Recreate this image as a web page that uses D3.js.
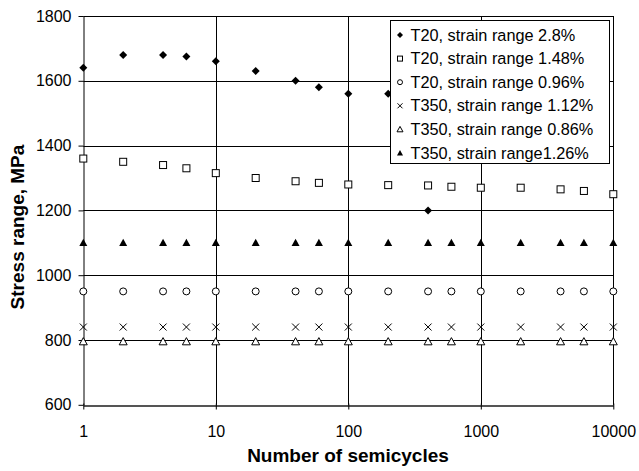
<!DOCTYPE html>
<html><head><meta charset="utf-8">
<script src="https://cdn.jsdelivr.net/npm/d3@7"></script>
<style>body{margin:0;background:#fff}svg{display:block}text{font-family:"Liberation Sans",Arial,sans-serif}</style>
</head><body>
<script>
const cycles = [1,2,4,6,10,20,40,60,100,200,400,600,1000,2000,4000,6000,10000];
const t20_28 = [1640,1680,1680,1675,1660,1630,1600,1580,1560,1560,1200];
const t20_148 = [1360,1350,1340,1330,1315,1300,1290,1285,1280,1278,1277,1273,1270,1270,1265,1260,1250];
const t20_096 = [950,950,950,950,950,950,950,950,950,950,950,950,950,950,950,950,950];
const t350_112 = [840,840,840,840,840,840,840,840,840,840,840,840,840,840,840,840,840];
const t350_086 = [795,795,795,795,795,795,795,795,795,795,795,795,795,795,795,795,795];
const t350_126 = [1100,1100,1100,1100,1100,1100,1100,1100,1100,1100,1100,1100,1100,1100,1100,1100,1100];
const seriesNames = ["T20, strain range 2.8%","T20, strain range 1.48%","T20, strain range 0.96%","T350, strain range 1.12%","T350, strain range 0.86%","T350, strain range1.26%"];
const seriesValues = [t20_28,t20_148,t20_096,t350_112,t350_086,t350_126];
const markerTypes = ["diamond","square","circle","cross","triangleOpen","triangleFilled"];
const xTicks = [1,10,100,1000,10000];
const yTicks = [600,800,1000,1200,1400,1600,1800];

const W=639,H=471;
const svg=d3.select("body").append("svg").attr("width",W).attr("height",H);
const x=d3.scaleLog().domain([1,10000]).range([83.3,613.3]);
const y=d3.scaleLinear().domain([600,1800]).range([404.8,16]);

// grid
svg.append("g").selectAll("line").data(yTicks.filter(d=>d>600)).join("line")
  .attr("x1",x(1)).attr("x2",x(10000)).attr("y1",d=>Math.round(y(d))+0.5).attr("y2",d=>Math.round(y(d))+0.5)
  .attr("stroke","#000").attr("stroke-width",1);
svg.append("g").selectAll("line").data(xTicks.filter(d=>d>1)).join("line")
  .attr("x1",d=>Math.round(x(d))+0.5).attr("x2",d=>Math.round(x(d))+0.5).attr("y1",y(1800)).attr("y2",y(600))
  .attr("stroke","#000").attr("stroke-width",1);

// axes
const xa=svg.append("g").attr("transform",`translate(0,${Math.round(y(600))+0.5})`)
  .call(d3.axisBottom(x).tickValues(xTicks).tickFormat(d3.format("d")).tickSizeInner(4).tickSizeOuter(0).tickPadding(16));
const ya=svg.append("g").attr("transform",`translate(${Math.round(x(1))+0.5},0)`)
  .call(d3.axisLeft(y).tickValues(yTicks).tickFormat(d3.format("d")).tickSizeInner(5).tickSizeOuter(0).tickPadding(7));
[xa,ya].forEach(a=>{a.selectAll("path,line").attr("stroke","#000");a.selectAll("text").attr("font-size",16).attr("fill","#000");});
xa.select("path").attr("stroke","#555").attr("stroke-width",2);
xa.selectAll(".tick line").attr("transform","translate(0,-2)").attr("y2",6);

// markers
function drawMarker(g,type,s){
  const h=s/2;
  if(type==="diamond") g.append("path").attr("d",`M0,${-h}L${h},0L0,${h}L${-h},0Z`).attr("fill","#000");
  else if(type==="square") g.append("rect").attr("x",-h+0.5).attr("y",-h+0.5).attr("width",s-1).attr("height",s-1).attr("fill","#fff").attr("stroke","#000");
  else if(type==="circle") g.append("circle").attr("r",h-0.5).attr("fill","#fff").attr("stroke","#000");
  else if(type==="cross") g.append("path").attr("d",`M${-h+0.5},${-h+0.5}L${h-0.5},${h-0.5}M${-h+0.5},${h-0.5}L${h-0.5},${-h+0.5}`).attr("stroke","#000").attr("fill","none");
  else if(type==="triangleOpen") g.append("path").attr("d",`M0,${-h}L${h},${h*0.8}L${-h},${h*0.8}Z`).attr("fill","#fff").attr("stroke","#000");
  else if(type==="triangleFilled") g.append("path").attr("d",`M0,${-h}L${h},${h*0.8}L${-h},${h*0.8}Z`).attr("fill","#000");
}
seriesValues.forEach((vals,i)=>{
  vals.forEach((v,j)=>{
    const g=svg.append("g").attr("transform",`translate(${x(cycles[j])},${y(v)})`);
    drawMarker(g,markerTypes[i],8);
  });
});

// legend
const lg=svg.append("g");
lg.append("rect").attr("x",390.5).attr("y",20.5).attr("width",219).attr("height",143).attr("fill","#fff").attr("stroke","#000");
seriesNames.forEach((n,i)=>{
  const base=40.5+i*23.6;
  const g=lg.append("g").attr("transform",`translate(400,${base-5.5})`);
  drawMarker(g,markerTypes[i],6);
  lg.append("text").attr("x",410.5).attr("y",base).attr("font-size",16.3).text(n);
});

// axis titles
svg.append("text").attr("x",348).attr("y",462).attr("text-anchor","middle").attr("font-size",19).attr("font-weight","bold").text("Number of semicycles");
svg.append("text").attr("transform",`translate(24,227) rotate(-90)`).attr("text-anchor","middle").attr("font-size",19).attr("font-weight","bold").text("Stress range, MPa");
</script>
</body></html>
